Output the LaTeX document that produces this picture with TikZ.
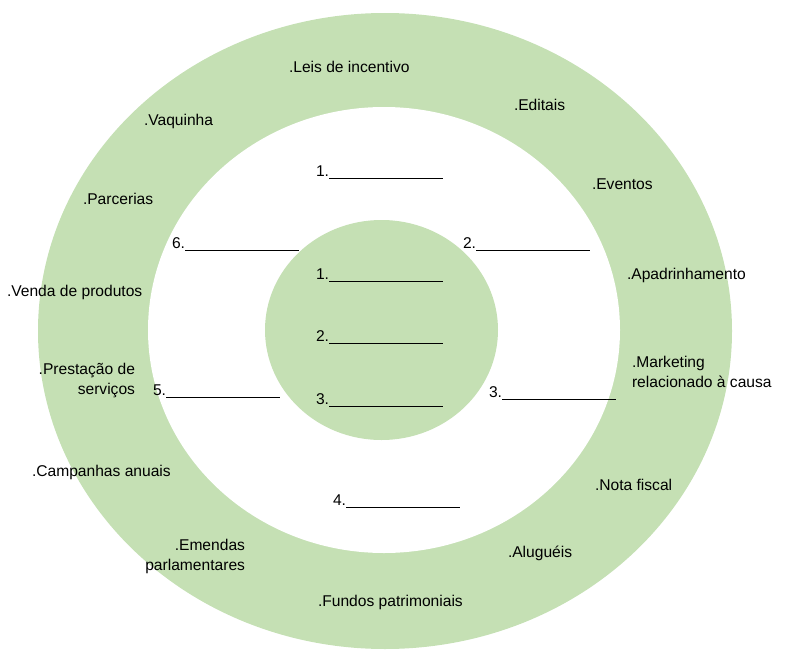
\documentclass[tikz,border=0pt]{standalone}
\usepackage{fontspec}
\setmainfont{Liberation Sans}
\usetikzlibrary{positioning}
\definecolor{ringgreen}{HTML}{C5E0B4}
\newcommand{\blank}{\rule[-2pt]{114pt}{0.8pt}}
\tikzset{
    lbl/.style={anchor=base west, inner sep=0pt, outer sep=0pt, font=\fontsize{15.6}{20}\selectfont},
    lbltwo/.style={inner sep=0pt, outer sep=0pt, font=\fontsize{15.6}{20}\selectfont}
}

\begin{document}
\begin{tikzpicture}[x=1pt,y=-1pt]
    \useasboundingbox (0,0) rectangle (787,661);
    \fill[ringgreen] (385,331) ellipse [x radius=347pt, y radius=318pt];
    \fill[white] (384,330) ellipse [x radius=236pt, y radius=223pt];
    \fill[ringgreen] (381.5,330) ellipse [x radius=116.5pt, y radius=110pt];
    % outer ring
    \node[lbl] (leis) at (289,72.5) {.Leis de incentivo};
    \node[lbl] (editais) at (514,110.5) {.Editais};
    \node[lbl] (vaquinha) at (144,125.5) {.Vaquinha};
    \node[lbl] (eventos) at (592,189.5) {.Eventos};
    \node[lbl] (parcerias) at (83,204.5) {.Parcerias};
    \node[lbl] (apadrinhamento) at (627,279.5) {.Apadrinhamento};
    \node[lbl] (venda) at (7,296.5) {.Venda de produtos};
    \node[lbltwo, anchor=north west, align=left] (marketing) at (632,356) {.Marketing\\relacionado à causa};
    \node[lbltwo, anchor=north east, align=right] (prestacao) at (135,363) {.Prestação de\\serviços};
    \node[lbl] (campanhas) at (32,476.5) {.Campanhas anuais};
    \node[lbl] (nota) at (595,490.5) {.Nota fiscal};
    \node[lbltwo, anchor=north east, align=right] (emendas) at (245,539) {.Emendas\\parlamentares};
    \node[lbl] (alugueis) at (508,557.5) {.Aluguéis};
    \node[lbl] (fundos) at (318,606.5) {.Fundos patrimoniais};
    % white ring
    \node[lbl] (ring1) at (316,176.5) {1.\blank};
    \node[lbl] (ring2) at (463,248.5) {2.\blank};
    \node[lbl] (ring3) at (489,397.5) {3.\blank};
    \node[lbl] (ring4) at (333,505.5) {4.\blank};
    \node[lbl] (ring5) at (153,395.5) {5.\blank};
    \node[lbl] (ring6) at (172,248.5) {6.\blank};
    % core
    \foreach \n/\y in {1/279.5, 2/341.5, 3/404.5}
        \node[lbl] (core\n) at (316,\y) {\n.\blank};
\end{tikzpicture}
\end{document}
